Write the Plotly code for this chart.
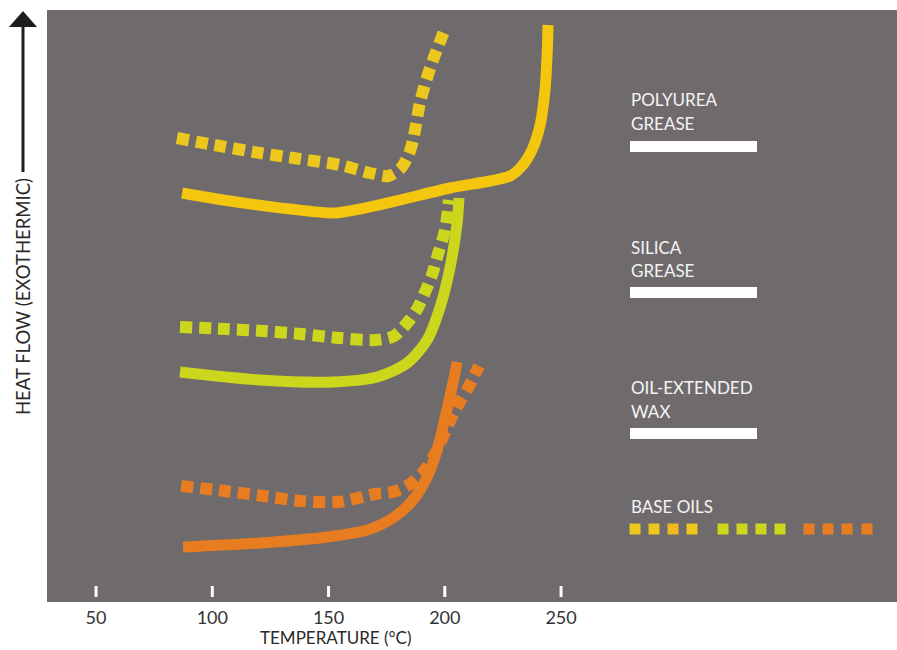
import plotly.graph_objects as go

# Temperature (°C) and heat flow (arbitrary units, exothermic up)
poly_grease_T = [87.0, 107.6, 133.4, 152.8, 163.5, 180.8, 202.3, 219.5, 228.1, 233.2, 237.5, 241.0, 243.1, 244.0, 244.4]
poly_grease_H = [409, 401, 393, 389, 393, 402, 414, 421, 426, 436, 452, 477, 512, 547, 577]

poly_oil_T = [84.8, 103.3, 120.5, 137.7, 154.9, 167.8, 175.6, 180.8, 184.6, 186.8, 189.4, 193.7, 200.2]
poly_oil_H = [464, 456, 449, 443, 437, 429, 426, 433, 448, 467, 500, 534, 574]

silica_grease_T = [86.1, 120.5, 151.9, 170.9, 183.8, 192.4, 198.0, 202.3, 205.3, 206.1]
silica_grease_H = [230, 222, 220, 225, 239, 262, 295, 335, 379, 404]

silica_oil_T = [86.1, 105.5, 121.8, 138.2, 154.5, 170.4, 178.2, 183.8, 188.1, 191.5, 194.5, 196.7, 200.1, 201.8]
silica_oil_H = [275, 273, 271, 268, 264, 262, 266, 279, 293, 310, 327, 345, 372, 402]

wax_T = [87.4, 120.5, 149.4, 166.6, 177.7, 186.3, 192.4, 196.7, 200.9, 203.5, 205.3]
wax_H = [55, 59, 65, 72, 84, 102, 125, 152, 192, 219, 240]

wax_oil_T = [86.6, 105.5, 121.8, 138.2, 154.1, 170.0, 177.7, 185.1, 191.5, 197.1, 201.4, 205.7, 210.0, 214.7]
wax_oil_H = [116, 111, 106, 101, 100, 108, 110, 118, 132, 154, 177, 197, 214, 236]

tick_values = [50, 100, 150, 200, 250]
tick_labels = ["50", "100", "150", "200", "250"]

YELLOW = "rgb(244,198,14)"
YELLOW_DOT = "rgb(236,200,30)"
LIME = "rgb(204,214,28)"
ORANGE = "rgb(232,124,32)"
BG = "rgb(111,107,109)"
FONT = "Lato"

W, H = 897, 650
L, R, T, B = 47, 0, 10, 48
PW, PH = W - L - R, H - T - B


def px(x):
    return (x - L) / PW


def py(y):
    return (H - B - y) / PH


fig = go.Figure()

DOT = "12px,7px"
series = [
    (poly_oil_T, poly_oil_H, YELLOW_DOT, DOT),
    (silica_oil_T, silica_oil_H, LIME, DOT),
    (wax_oil_T, wax_oil_H, ORANGE, DOT),
    (poly_grease_T, poly_grease_H, YELLOW, "solid"),
    (silica_grease_T, silica_grease_H, LIME, "solid"),
    (wax_T, wax_H, ORANGE, "solid"),
]
for xs, ys, col, dash in series:
    fig.add_trace(go.Scatter(
        x=xs, y=ys, mode="lines",
        line=dict(color=col, width=11 if dash == "solid" else 12, dash=dash,
                  shape="spline", smoothing=0.8),
        hoverinfo="skip", showlegend=False,
    ))

shapes = []
# white tick marks sitting just above the bottom edge
for tv in tick_values:
    shapes.append(dict(type="line", xref="x", yref="paper", x0=tv, x1=tv,
                       y0=py(597), y1=py(586), line=dict(color="white", width=3)))

# legend: white bars for the greases
for yb in (146.5, 292.5, 433.5):
    shapes.append(dict(type="rect", xref="paper", yref="paper",
                       x0=px(630), x1=px(757), y0=py(yb + 5.5), y1=py(yb - 5.5),
                       fillcolor="white", line=dict(width=0)))

# legend: dotted swatch for the base oils
dot_x = [635, 654, 673, 692, 723, 742, 761, 780, 809, 828, 847, 867]
dot_c = [YELLOW_DOT, YELLOW_DOT, "rgb(240,186,30)", YELLOW_DOT,
         LIME, LIME, LIME, LIME, ORANGE, ORANGE, ORANGE, ORANGE]
for cx, c in zip(dot_x, dot_c):
    shapes.append(dict(type="rect", xref="paper", yref="paper",
                       x0=px(cx - 5.5), x1=px(cx + 5.5), y0=py(534.5), y1=py(523.5),
                       fillcolor=c, line=dict(width=0)))

# upward arrow beside the y-axis label
shapes.append(dict(type="line", xref="paper", yref="paper",
                   x0=px(23), x1=px(23), y0=py(172), y1=py(26),
                   line=dict(color="#1e1e1e", width=3)))
shapes.append(dict(type="path", xref="paper", yref="paper",
                   path=f"M {px(9)} {py(27)} L {px(23)} {py(11)} L {px(37)} {py(27)} Z",
                   fillcolor="#1e1e1e", line=dict(width=0)))

annotations = []
legend_text = [
    ("POLYUREA", 100), ("GREASE", 123),
    ("SILICA", 247), ("GREASE", 270),
    ("OIL-EXTENDED", 387), ("WAX", 411),
    ("BASE OILS", 507),
]
for txt, yy in legend_text:
    annotations.append(dict(text=txt, xref="paper", yref="paper", x=px(629), y=py(yy),
                            xanchor="left", yanchor="middle", showarrow=False,
                            font=dict(family=FONT, size=17, color="#f4f4f4")))

annotations.append(dict(text="HEAT FLOW (EXOTHERMIC)", textangle=-90,
                        xref="paper", yref="paper", x=px(23), y=py(297),
                        xanchor="center", yanchor="middle", showarrow=False,
                        font=dict(family=FONT, size=18.5, color="#2a2a2a")))
annotations.append(dict(text="TEMPERATURE (°C)", xref="x", yref="paper",
                        x=153, y=py(650), xanchor="center", yanchor="bottom",
                        showarrow=False, font=dict(family=FONT, size=17, color="#2a2a2a")))

fig.update_layout(
    width=W, height=H,
    margin=dict(l=L, r=R, t=T, b=B),
    paper_bgcolor="white", plot_bgcolor=BG,
    shapes=shapes, annotations=annotations,
    xaxis=dict(range=[28.9, 394.5], tickvals=tick_values, ticktext=tick_labels,
               ticks="", showgrid=False, zeroline=False, showline=False,
               ticklabelstandoff=3,
               tickfont=dict(family=FONT, size=18, color="#333333"), fixedrange=True),
    yaxis=dict(range=[0, 592], showticklabels=False, ticks="", showgrid=False,
               zeroline=False, showline=False, fixedrange=True),
)

fig.write_html("out.html")
